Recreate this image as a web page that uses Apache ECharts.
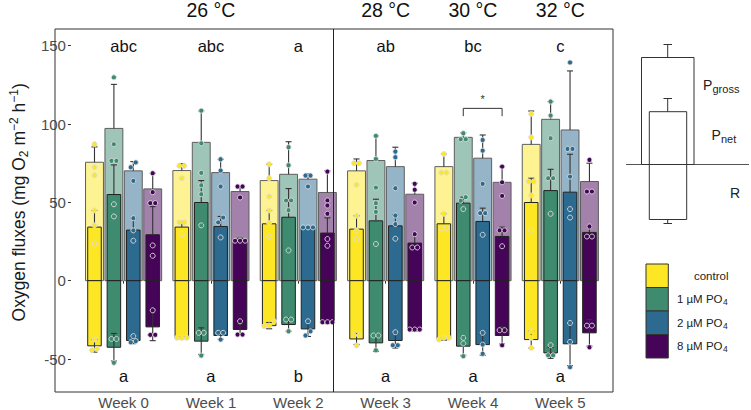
<!DOCTYPE html>
<html>
<head>
<meta charset="utf-8">
<script src="https://cdn.jsdelivr.net/npm/echarts@6/dist/echarts.min.js"></script>
<style>html,body{margin:0;padding:0;background:#fff}#c{width:751px;height:410px}</style>
</head>
<body>
<div id="c"></div>
<script>
// ---------------- DATA ----------------
const weeks = ['Week 0', 'Week 1', 'Week 2', 'Week 3', 'Week 4', 'Week 5'];
const treatments = ['control', '1 µM PO4', '2 µM PO4', '8 µM PO4'];
const colors = ['#FDE725', '#3E8B6F', '#2C6A8F', '#450457'];
const yTicks = [-50, 0, 50, 100, 150];

// rows = treatments, columns = weeks
const grossMean = [
  [75.6, 70.3, 63.9, 70.1, 72.8, 87.0],
  [97.2, 88.3, 67.9, 76.7, 91.5, 103.0],
  [70.1, 69.0, 64.8, 72.8, 78.2, 96.2],
  [58.6, 56.9, 56.3, 55.2, 62.8, 63.3]
];
const grossSd = [
  [9.8, 4.3, 10.4, 7.6, 8.1, 21.3],
  [28.1, 20.0, 20.8, 15.7, 3.0, 11.3],
  [5.9, 8.5, 3.3, 12.4, 14.8, 37.7],
  [10.0, 3.2, 13.8, 7.0, 10.0, 11.7]
];
const netMean = [
  [34.2, 34.2, 36.3, 32.9, 36.3, 49.9],
  [55.0, 49.9, 40.5, 38.2, 49.5, 57.5],
  [32.3, 34.6, 34.0, 35.0, 37.8, 56.5],
  [29.3, 24.4, 30.4, 24.0, 28.2, 30.8]
];
const netSd = [
  [10.6, 3.6, 8.5, 8.5, 6.4, 15.5],
  [18.9, 14.0, 18.3, 13.8, 3.8, 13.6],
  [7.6, 6.4, 0.5, 7.0, 8.5, 24.2],
  [18.0, 2.7, 9.7, 5.7, 6.0, 3.8]
];
const rMean = [
  [-41.6, -36.5, -28.7, -37.2, -37.2, -37.6],
  [-42.5, -38.6, -28.0, -39.7, -41.8, -46.1],
  [-38.2, -35.0, -30.8, -38.2, -40.8, -40.3],
  [-29.5, -31.2, -26.9, -31.6, -35.0, -33.3]
];
const rSd = [
  [4.0, 0.5, 2.0, 3.5, 0.8, 5.5],
  [8.8, 8.5, 4.3, 5.5, 5.9, 3.5],
  [2.0, 2.4, 4.8, 4.8, 6.8, 14.0],
  [8.8, 3.3, 0.5, 0.5, 5.5, 8.5]
];
const grossPts = [
  [[87.1, 72.4, 67.3], [73.3, 73.3, 65.4], [74.3, 65.4, 53.7], [75.0, 75.0, 61.2], [80.9, 69.0, 69.0], [106.4, 91.5, 63.3]],
  [[129.8, 87.1, 76.5], [108.5, 87.7, 68.8], [85.2, 73.7, 45.0], [92.4, 77.7, 59.4], [94.1, 90.3, 90.3], [114.3, 105.4, 90.9]],
  [[75.5, 72.4, 63.7], [77.5, 70.3, 60.1], [67.1, 67.1, 60.1], [82.4, 78.8, 59.0], [89.8, 83.0, 61.8], [139.3, 84.1, 66.4]],
  [[68.6, 56.5, 49.5], [60.1, 60.1, 53.1], [69.6, 51.2, 48.0], [61.8, 58.0, 49.9], [72.8, 62.8, 54.1], [77.1, 56.9, 56.9]]
];
const netPts = [
  [[44.8, 35.3, 23.6], [37.2, 37.2, 29.9], [44.8, 36.8, 28.3], [41.4, 32.1, 26.6], [42.7, 33.6, 33.6], [63.3, 54.4, 32.5]],
  [[76.5, 48.8, 41.0], [60.9, 55.2, 35.3], [51.2, 51.2, 19.3], [49.5, 43.9, 23.4], [53.3, 51.0, 45.7], [65.4, 65.4, 42.7]],
  [[39.9, 32.1, 25.5], [40.3, 37.2, 27.6], [34.0, 34.0, 34.0], [41.6, 36.1, 26.8], [43.1, 43.1, 29.3], [84.1, 45.7, 40.3]],
  [[49.5, 22.5, 15.9], [25.5, 25.5, 25.5], [42.7, 26.6, 22.3], [29.7, 21.2, 21.2], [32.1, 32.1, 22.0], [34.6, 28.2, 28.2]]
];
const rPts = [
  [[-37.6, -43.5, -44.4], [-36.5, -36.5, -36.5], [-25.9, -28.6, -29.1], [-34.8, -34.8, -41.4], [-36.5, -36.5, -37.6], [-32.3, -36.5, -42.9]],
  [[-37.2, -37.2, -52.4], [-33.3, -33.3, -47.8], [-24.8, -24.8, -32.3], [-35.0, -35.0, -44.4], [-36.5, -40.1, -48.2], [-41.2, -47.6, -47.6]],
  [[-35.4, -38.6, -39.3], [-33.3, -33.3, -37.6], [-25.9, -32.3, -35.0], [-32.9, -41.2, -41.2], [-33.3, -40.8, -46.7], [-27.0, -39.1, -55.2]],
  [[-18.9, -34.6, -34.6], [-25.9, -34.4, -34.4], [-26.5, -26.5, -26.5], [-31.2, -31.2, -31.2], [-31.6, -31.6, -41.2], [-28.7, -28.7, -42.5]]
];
const topLetters = ['abc', 'abc', 'a', 'ab', 'bc', 'c'];
const bottomLetters = ['a', 'a', 'b', 'a', 'a', 'a'];
const panelTitles = ['26 °C', '28 °C', '30 °C', '32 °C'];
const panelWeek = [1, 3, 4, 5];
const bracketWeek = 4, bracketFrom = 1, bracketTo = 3, bracketLabel = '*';

// ---------------- HELPERS ----------------
function rgba(hex, a) {
  const n = parseInt(hex.slice(1), 16);
  return 'rgba(' + ((n >> 16) & 255) + ',' + ((n >> 8) & 255) + ',' + (n & 255) + ',' + a + ')';
}
function jitterOffsets(vals, gapVal, step) {
  const idx = vals.map((v, i) => i).sort((a, b) => vals[a] - vals[b]);
  const offs = new Array(vals.length).fill(0);
  let cluster = [idx[0]];
  const flush = () => {
    const k = cluster.length;
    cluster.forEach((ii, j) => { offs[ii] = (j - (k - 1) / 2) * step; });
  };
  for (let j = 1; j < idx.length; j++) {
    if (vals[idx[j]] - vals[cluster[cluster.length - 1]] < gapVal) cluster.push(idx[j]);
    else { flush(); cluster = [idx[j]]; }
  }
  flush();
  return offs;
}
const ERR = '#333333';
function ln(x1, y1, x2, y2, c, w) {
  return { type: 'line', shape: { x1, y1, x2, y2 }, style: { stroke: c || ERR, lineWidth: w || 1.1 } };
}

function makeRender(t) {
  return function (params, api) {
    const w = api.value(0);
    const band = api.size([1, 0])[0];
    const base = api.coord([w, 0]);
    const cx = base[0] + (t - 1.5) * band * 0.2222;
    const y0 = base[1];
    const Y = v => api.coord([w, v])[1];
    const gw = band * 0.205, nw = band * 0.155, cap = 3;
    const col = colors[t];
    const ch = [];
    // gross bar
    const yg = Y(grossMean[t][w]);
    ch.push({ type: 'rect', shape: { x: cx - gw / 2, y: yg, width: gw, height: y0 - yg },
      style: { fill: rgba(col, 0.5), stroke: '#5e5e5e', lineWidth: 1 } });
    const ygs = Y(grossMean[t][w] + grossSd[t][w]);
    ch.push(ln(cx, yg, cx, ygs), ln(cx - cap, ygs, cx + cap, ygs));
    // net bar
    const yn = Y(netMean[t][w]);
    ch.push({ type: 'rect', shape: { x: cx - nw / 2, y: yn, width: nw, height: y0 - yn },
      style: { fill: col, stroke: '#222', lineWidth: 1 } });
    const yns = Y(netMean[t][w] + netSd[t][w]);
    ch.push(ln(cx, yn, cx, yns), ln(cx - cap, yns, cx + cap, yns));
    // respiration bar
    const yr = Y(rMean[t][w]);
    ch.push({ type: 'rect', shape: { x: cx - nw / 2, y: y0, width: nw, height: yr - y0 },
      style: { fill: col, stroke: '#222', lineWidth: 1 } });
    const yr1 = Y(rMean[t][w] + rSd[t][w]), yr2 = Y(rMean[t][w] - rSd[t][w]);
    ch.push(ln(cx, yr1, cx, yr2), ln(cx - cap, yr1, cx + cap, yr1), ln(cx - cap, yr2, cx + cap, yr2));
    // individual points
    const all = grossPts[t][w].concat(netPts[t][w], rPts[t][w]);
    const offs = jitterOffsets(all, 3.2, 5);
    all.forEach((v, k) => {
      ch.push({ type: 'circle', shape: { cx: cx + offs[k], cy: Y(v), r: 2.5 },
        style: { fill: col, stroke: '#dcdcdc', lineWidth: 0.9 } });
    });
    return { type: 'group', children: ch };
  };
}

const FONT = '"Liberation Sans", Arial, Helvetica, sans-serif';

const series = treatments.map((name, t) => ({
  type: 'custom', name: name,
  data: weeks.map((wk, i) => [i, grossMean[t][i]]),
  encode: { x: 0, y: 1 },
  renderItem: makeRender(t),
  z: 2 + t
}));

// letters + panel titles
series.push({
  type: 'custom', name: 'letters', z: 10,
  data: weeks.map((wk, i) => [i, 0]),
  encode: { x: 0, y: 1 },
  renderItem: function (params, api) {
    const w = api.value(0);
    const top = api.coord([w, 150]);
    const bot = api.coord([w, -61]);
    const ch = [
      { type: 'text', style: { text: topLetters[w], x: top[0], y: top[1], align: 'center', verticalAlign: 'middle', fontSize: 16.5, fontFamily: FONT, fill: '#111' } },
      { type: 'text', style: { text: bottomLetters[w], x: bot[0], y: bot[1], align: 'center', verticalAlign: 'middle', fontSize: 16.5, fontFamily: FONT, fill: '#111' } }
    ];
    const pi = panelWeek.indexOf(w);
    if (pi >= 0) {
      ch.push({ type: 'text', style: { text: panelTitles[pi], x: top[0], y: 10, align: 'center', verticalAlign: 'middle', fontSize: 19.5, fontFamily: FONT, fill: '#111' } });
    }
    return { type: 'group', children: ch };
  }
});

// significance bracket
series.push({
  type: 'custom', name: 'bracket', z: 10,
  data: [[bracketWeek, 110]],
  encode: { x: 0, y: 1 },
  renderItem: function (params, api) {
    const w = api.value(0);
    const band = api.size([1, 0])[0];
    const c = api.coord([w, 110]);
    const x1 = c[0] + (bracketFrom - 1.5) * band * 0.2222;
    const x2 = c[0] + (bracketTo - 1.5) * band * 0.2222;
    const yTop = c[1], yLeg = api.coord([w, 105])[1], yStar = api.coord([w, 116])[1];
    return { type: 'group', children: [
      { type: 'polyline', shape: { points: [[x1, yLeg], [x1, yTop], [x2, yTop], [x2, yLeg]] }, style: { stroke: '#333', lineWidth: 1, fill: null } },
      { type: 'text', style: { text: bracketLabel, x: (x1 + x2) / 2, y: yStar, align: 'center', verticalAlign: 'middle', fontSize: 11, fontFamily: FONT, fill: '#333' } }
    ] };
  }
});

// legend / schematic graphics
const legendEls = [];
const sch = { stroke: '#333', lineWidth: 1, fill: null };
const txtStyle = (text, size, align) => ({ text: text, fontSize: size, fontFamily: FONT, fill: '#222', align: align || 'left', verticalAlign: 'middle' });
legendEls.push(
  { type: 'line', shape: { x1: 626, y1: 164.5, x2: 749, y2: 164.5 }, style: { stroke: '#555', lineWidth: 1 } },
  { type: 'rect', shape: { x: 641.5, y: 57.5, width: 52.5, height: 107 }, style: sch },
  { type: 'line', shape: { x1: 667.7, y1: 57.5, x2: 667.7, y2: 44.5 }, style: sch },
  { type: 'line', shape: { x1: 663.5, y1: 44.5, x2: 672, y2: 44.5 }, style: sch },
  { type: 'rect', shape: { x: 649.3, y: 111.7, width: 37.4, height: 52.8 }, style: sch },
  { type: 'line', shape: { x1: 667.7, y1: 111.7, x2: 667.7, y2: 98.5 }, style: sch },
  { type: 'line', shape: { x1: 663.5, y1: 98.5, x2: 672, y2: 98.5 }, style: sch },
  { type: 'rect', shape: { x: 649.3, y: 164.5, width: 37.4, height: 55 }, style: sch },
  { type: 'line', shape: { x1: 667.7, y1: 219.5, x2: 667.7, y2: 223.5 }, style: sch },
  { type: 'line', shape: { x1: 663.5, y1: 223.5, x2: 672, y2: 223.5 }, style: sch },
  { type: 'text', x: 703, y: 84.5, style: txtStyle('P', 14) },
  { type: 'text', x: 712.5, y: 89, style: txtStyle('gross', 11) },
  { type: 'text', x: 711.5, y: 134.5, style: txtStyle('P', 14) },
  { type: 'text', x: 721, y: 139, style: txtStyle('net', 11) },
  { type: 'text', x: 730, y: 193, style: txtStyle('R', 14) }
);
// legend keys
const keyTop = 264, keyH = 23.5;
treatments.forEach((name, t) => {
  const y = keyTop + t * keyH;
  legendEls.push({ type: 'rect', shape: { x: 646, y: y, width: 22.3, height: keyH }, style: { fill: colors[t], stroke: '#333', lineWidth: 1 } });
  const m = name.match(/^(.*PO)(\d)$/);
  if (m) {
    legendEls.push({ type: 'text', x: 722.5, y: y + keyH / 2, style: txtStyle(m[1], 11.5, 'right') });
    legendEls.push({ type: 'text', x: 723, y: y + keyH / 2 + 3, style: txtStyle(m[2], 8.5, 'left') });
  } else {
    legendEls.push({ type: 'text', x: 728.5, y: y + keyH / 2, style: txtStyle(name, 11.5, 'right') });
  }
});
// panel frame
legendEls.push(
  { type: 'rect', shape: { x: 55, y: 29, width: 558, height: 363 }, style: { fill: null, stroke: '#333', lineWidth: 1 }, z: 20 },
  { type: 'line', shape: { x1: 333.5, y1: 29, x2: 333.5, y2: 392 }, style: { stroke: '#222', lineWidth: 1 }, z: 20 }
);

const option = {
  backgroundColor: '#fff',
  animation: false,
  grid: { left: 64, top: 45.7, width: 540, height: 314.3, containLabel: false },
  xAxis: {
    type: 'category', data: weeks, boundaryGap: true, offset: 32,
    axisLine: { show: false },
    axisTick: { show: true, alignWithLabel: true, length: 3, lineStyle: { color: '#333' } },
    axisLabel: { color: '#4d4d4d', fontSize: 15, fontFamily: FONT, margin: 4 },
    splitLine: { show: false }
  },
  yAxis: {
    type: 'value', min: yTicks[0], max: yTicks[yTicks.length - 1], interval: 50, offset: 9,
    axisLine: { show: false },
    axisTick: { show: true, length: 3, lineStyle: { color: '#333' } },
    axisLabel: { color: '#4d4d4d', fontSize: 15, fontFamily: FONT, margin: 5 },
    splitLine: { show: false },
    name: '{a|Oxygen fluxes (mg O}{s|2}{a| m}{p|−2}{a| h}{p|−1}{a|)}',
    nameLocation: 'middle', nameGap: 32, nameRotate: 90,
    nameTextStyle: {
      rich: {
        a: { fontSize: 17.5, fontFamily: FONT, color: '#1a1a1a', lineHeight: 22 },
        s: { fontSize: 12, fontFamily: FONT, color: '#1a1a1a', lineHeight: 13, verticalAlign: 'bottom' },
        p: { fontSize: 12, fontFamily: FONT, color: '#1a1a1a', lineHeight: 12, verticalAlign: 'top' }
      }
    }
  },
  graphic: legendEls,
  series: series
};

const chart = echarts.init(document.getElementById('c'), null, { renderer: 'svg' });
chart.setOption(option);
</script>
</body>
</html>
